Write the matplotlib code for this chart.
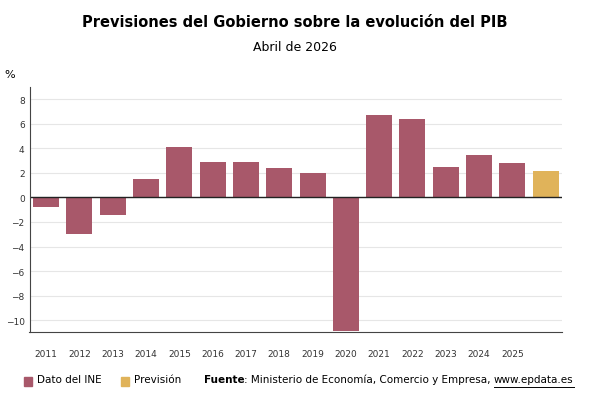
import matplotlib.pyplot as plt

years = ["2011","2012","2013","2014","2015","2016","2017","2018","2019","2020","2021","2022","2023","2024","2025"]
ine = [-0.8,-3.0,-1.4,1.5,4.1,2.9,2.9,2.4,2.0,-10.9,6.7,6.4,2.5,3.5,2.8]
prev = [2.2]

c1 = "#a8586a"; c2 = "#e0b35a"
fig = plt.figure(figsize=(5.9,4.1), dpi=100)
ax = fig.add_axes([0.05, 0.187, 0.903, 0.598])
x = list(range(len(years)))
ax.bar(x, ine, width=0.78, color=c1)
ax.bar([len(years)], prev, width=0.78, color=c2)
ax.set_xlim(-0.5, len(years)+0.5)
ax.set_ylim(-11, 9)
ax.set_yticks(range(-10, 9, 2))
ax.set_xticks(x)
ax.set_xticklabels(years)
ax.tick_params(axis='both', labelsize=6.5, length=0, colors="#333333")
ax.tick_params(axis='x', pad=12)
ax.grid(axis='y', color="#e6e6e6", lw=0.8)
ax.set_axisbelow(True)
ax.axhline(0, color="#222222", lw=1)
for s in ["top","right"]:
    ax.spines[s].set_visible(False)
ax.spines["left"].set_color("#444444")
ax.spines["bottom"].set_color("#444444")
fig.text(0.5, 0.935, "Previsiones del Gobierno sobre la evolución del PIB", ha="center", fontsize=10.5, weight="bold")
fig.text(0.5, 0.875, "Abril de 2026", ha="center", fontsize=9)
fig.text(0.008, 0.81, "%", fontsize=8)
y = 0.06
fs = 7.5
fig.patches.append(plt.Rectangle((0.04, y-0.003), 0.014, 0.02, color=c1, transform=fig.transFigure))
fig.text(0.062, y, "Dato del INE", fontsize=fs, va="bottom")
fig.patches.append(plt.Rectangle((0.205, y-0.003), 0.014, 0.02, color=c2, transform=fig.transFigure))
fig.text(0.227, y, "Previsión", fontsize=fs, va="bottom")
r = fig.canvas.get_renderer()
t1 = fig.text(0.345, y, "Fuente", fontsize=fs, weight="bold", va="bottom")
x1 = fig.transFigure.inverted().transform((t1.get_window_extent(r).x1, 0))[0]
t2 = fig.text(x1, y, ": Ministerio de Economía, Comercio y Empresa, ", fontsize=fs, va="bottom")
x2 = fig.transFigure.inverted().transform((t2.get_window_extent(r).x1, 0))[0]
t3 = fig.text(x2, y, "www.epdata.es", fontsize=fs, va="bottom")
x3 = fig.transFigure.inverted().transform((t3.get_window_extent(r).x1, 0))[0]
fig.lines.append(plt.Line2D([x2, x3], [y-0.006, y-0.006], color="black", lw=0.7, transform=fig.transFigure))
fig.savefig("out.png")
